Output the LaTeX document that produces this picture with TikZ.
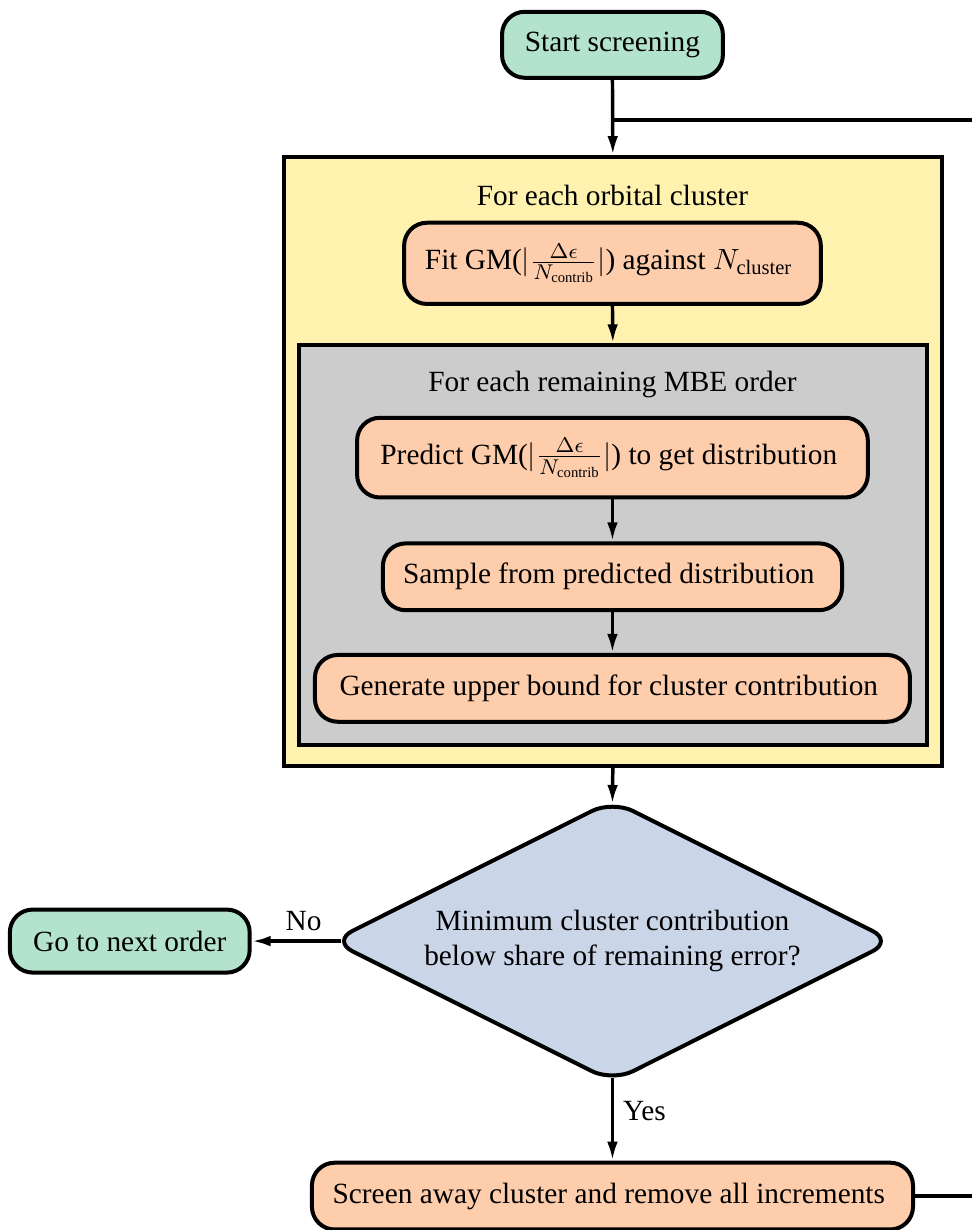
\documentclass[tikz,border=0pt]{standalone}
\usepackage{amsmath,amssymb}
\usepackage{fontspec}
\setmainfont{Liberation Serif}
\usepackage{tikz}
\usetikzlibrary{positioning,arrows.meta,calc,shapes.geometric}
\usepackage{xcolor}
\definecolor{pgreen}{HTML}{B3E2CD}
\definecolor{porange}{HTML}{FDCDAC}
\definecolor{pblue}{HTML}{CBD5E8}
\definecolor{pyellow}{HTML}{FFF2AE}
\definecolor{pgray}{HTML}{CCCCCC}

\begin{document}
\begin{tikzpicture}[font=\fontsize{11}{13}\selectfont,>=Latex]
\tikzset{
  box/.style={draw=black,rounded corners=3mm,line width=1.5pt,align=center,inner sep=2pt},
  frame/.style={draw=black,line width=1.5pt},
  arr/.style={-{Latex[length=2.5mm,width=1.4mm]},line width=1.3pt,draw=black},
  line/.style={line width=1.3pt,draw=black},
  tag/.style={inner sep=1pt}
}
\useasboundingbox (0,0) rectangle (128.07mm,-162.07mm);

\node[box,fill=pgreen,minimum width=29.1mm,minimum height=8.7mm] (start) at (80.7mm,-5.9mm) {Start screening};

\node[frame,fill=pyellow,minimum width=86.7mm,minimum height=80.2mm] (cluster) at (80.75mm,-60.8mm) {};
\node[tag] (clustertag) at (80.7mm,-25.8mm) {For each orbital cluster};
\node[box,fill=porange,minimum width=54.9mm,minimum height=10.7mm] (fit) at (80.7mm,-34.7mm) {
  Fit GM($|\frac{\Delta\epsilon}{N_\mathrm{contrib}}|$) against $N_\mathrm{cluster}$
};

\node[frame,fill=pgray,minimum width=82.7mm,minimum height=52.7mm] (order) at (80.75mm,-71.85mm) {};
\node[tag] (ordertag) at (80.7mm,-50.6mm) {For each remaining MBE order};
\node[box,fill=porange,minimum width=67.3mm,minimum height=10.5mm] (predict) at (80.7mm,-60.3mm) {
  Predict GM($|\frac{\Delta\epsilon}{N_\mathrm{contrib}}|$) to get distribution
};
\node[box,fill=porange,minimum width=60.5mm,minimum height=8.8mm] (sample) at (80.7mm,-76.0mm) {
  Sample from predicted distribution
};
\node[box,fill=porange,minimum width=78.4mm,minimum height=8.8mm] (bound) at (80.7mm,-90.7mm) {
  Generate upper bound for cluster contribution
};

\node[diamond,aspect=2,draw=black,line width=1.5pt,rounded corners=3mm,fill=pblue,align=center,inner sep=1pt,
  minimum width=74.1mm,minimum height=37.2mm] (check) at (80.7mm,-124.0mm) {
  Minimum cluster contribution\\below share of remaining error?
};
\node[box,fill=pgreen,minimum width=31.6mm,minimum height=8.3mm] (next) at (17.1mm,-124.0mm) {Go to next order};
\node[box,fill=porange,minimum width=79.2mm,minimum height=8.8mm] (screen) at (80.7mm,-157.6mm) {
  Screen away cluster and remove all increments
};

\coordinate (back) at (135mm,-15.8mm);
\coordinate (join) at (start.south |- back);

\draw[arr] (start.south) -- (cluster.north);
\draw[arr] (fit.south) -- (order.north);
\draw[arr] (predict.south) -- (sample.north);
\draw[arr] (sample.south) -- (bound.north);
\draw[arr,shorten >=-0.8mm] (cluster.south) -- (check.north);
\draw[arr,shorten <=-1.5mm] (check.west) -- node[above,pos=0.33] {No} (next.east);
\draw[arr,shorten <=-0.8mm] (check.south) -- node[right,pos=0.35] {Yes} (screen.north);
\draw[line] (screen.east) -| (back) -- (join);
\end{tikzpicture}
\end{document}
